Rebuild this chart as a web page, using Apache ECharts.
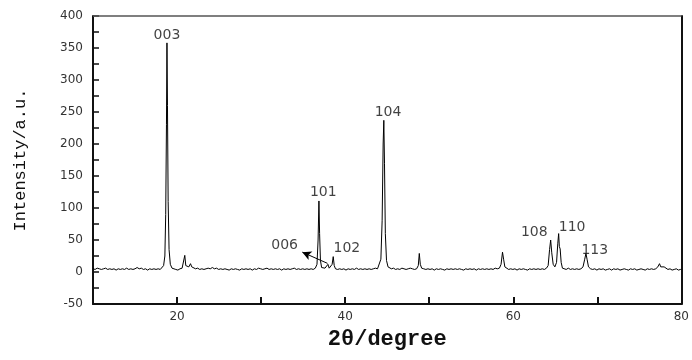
<!DOCTYPE html>
<html>
<head>
<meta charset="utf-8">
<script src="https://cdn.jsdelivr.net/npm/echarts@6/dist/echarts.min.js"></script>
<style>html,body{margin:0;padding:0;background:#fff}#c{width:692px;height:360px}</style>
</head>
<body>
<div id="c"></div>
<script>
const twoTheta = [10.0,10.25,10.5,10.75,11.0,11.25,11.5,11.75,12.0,12.25,12.5,12.75,13.0,13.25,13.5,13.75,14.0,14.25,14.5,14.75,15.0,15.25,15.5,15.75,16.0,16.25,16.5,16.75,17.0,17.25,17.5,17.75,18.0,18.2,18.4,18.55,18.65,18.74,18.8,18.86,18.94,19.05,19.2,19.4,19.6,19.85,20.1,20.35,20.6,20.8,20.92,21.04,21.2,21.4,21.6,21.75,21.95,22.2,22.45,22.7,22.95,23.2,23.45,23.7,23.95,24.2,24.45,24.7,24.95,25.2,25.45,25.7,25.95,26.2,26.45,26.7,26.95,27.2,27.45,27.7,27.95,28.2,28.45,28.7,28.95,29.2,29.45,29.7,29.95,30.2,30.45,30.7,30.95,31.2,31.45,31.7,31.95,32.2,32.45,32.7,32.95,33.2,33.45,33.7,33.95,34.2,34.45,34.7,34.95,35.2,35.45,35.7,35.95,36.2,36.45,36.65,36.78,36.88,36.96,37.06,37.2,37.4,37.6,37.8,37.95,38.1,38.3,38.45,38.58,38.7,38.85,39.1,39.35,39.6,39.85,40.1,40.35,40.6,40.85,41.1,41.35,41.6,41.85,42.1,42.35,42.6,42.85,43.1,43.35,43.6,43.85,44.05,44.25,44.4,44.52,44.6,44.68,44.78,44.92,45.1,45.3,45.5,45.75,46.0,46.25,46.5,46.75,47.0,47.25,47.5,47.75,48.0,48.25,48.5,48.7,48.82,48.94,49.1,49.35,49.6,49.85,50.1,50.35,50.6,50.85,51.1,51.35,51.6,51.85,52.1,52.35,52.6,52.85,53.1,53.35,53.6,53.85,54.1,54.35,54.6,54.85,55.1,55.35,55.6,55.85,56.1,56.35,56.6,56.85,57.1,57.35,57.6,57.85,58.1,58.35,58.55,58.72,58.85,59.0,59.2,59.45,59.7,59.95,60.2,60.45,60.7,60.95,61.2,61.45,61.7,61.95,62.2,62.45,62.7,62.95,63.2,63.45,63.7,63.95,64.15,64.32,64.45,64.58,64.75,64.95,65.15,65.3,65.4,65.48,65.58,65.7,65.85,66.05,66.3,66.55,66.8,67.05,67.3,67.55,67.8,68.05,68.3,68.5,68.65,68.78,68.95,69.2,69.45,69.7,69.95,70.2,70.45,70.7,70.95,71.2,71.45,71.7,71.95,72.2,72.45,72.7,72.95,73.2,73.45,73.7,73.95,74.2,74.45,74.7,74.95,75.2,75.45,75.7,75.95,76.2,76.45,76.7,76.95,77.2,77.4,77.55,77.75,77.95,78.15,78.4,78.65,78.9,79.15,79.4,79.65,79.9,80.0];
const intensity = [5,4,6,5,4,5,6,4,5,4,5,3,5,4,5,4,6,4,5,4,5,7,5,6,4,5,3,5,4,5,4,5,4,6,10,25,90,230,358,260,110,35,12,6,5,4,3,5,6,9,26,10,7,8,13,8,7,5,6,4,5,4,5,6,5,7,5,6,4,5,4,5,4,3,5,4,5,4,3,5,4,5,4,5,3,5,4,6,5,4,5,6,4,5,4,5,4,5,3,5,4,5,4,5,6,4,5,4,5,4,5,4,5,4,6,12,50,111,60,18,7,5,6,8,12,6,7,12,24,10,5,4,5,4,5,3,5,4,5,4,6,4,5,4,5,4,5,4,5,6,5,8,20,80,200,237,170,60,18,8,6,5,6,4,5,4,6,5,4,5,6,5,4,5,10,29,12,6,5,4,5,4,5,3,5,4,5,4,3,5,4,5,4,5,4,5,4,3,5,4,5,4,5,3,5,4,5,4,5,4,5,4,6,5,6,12,31,20,8,5,4,5,4,5,3,5,4,5,4,3,5,4,5,4,5,4,5,4,6,10,35,50,30,12,8,15,45,60,40,36,15,6,5,4,6,4,5,4,5,4,5,8,20,29,20,8,5,4,5,3,5,4,5,3,4,5,3,5,4,5,3,4,5,4,3,5,4,5,3,4,5,4,3,5,4,5,4,5,8,13,8,10,8,5,4,5,3,4,5,3,4,4];

const peakNames = ['003','101','006','102','104','108','110','113'];
const peakLabelX = [18.8,37.4,32.8,40.2,45.1,62.5,67.0,69.7];
const peakLabelY = [369,125,41,37.5,250,61.5,69,34];

const arrowFrom = [37.9,13.5];
const arrowTo = [34.9,31];

const yTicks = [-50,0,50,100,150,200,250,300,350,400];
const xTicks = [20,40,60,80];

const chart = echarts.init(document.getElementById('c'), null, {renderer:'canvas'});
const lineData = twoTheta.map((x,i)=>[x,intensity[i]]);
const labelData = peakNames.map((n,i)=>({value:[peakLabelX[i],peakLabelY[i]],name:n}));

chart.setOption({
  animation:false,
  backgroundColor:'#fff',
  grid:{left:93,right:9,top:16,bottom:56},
  xAxis:[{
    type:'value',min:10,max:80,interval:10,
    axisLine:{show:true,onZero:false,lineStyle:{color:'#111',width:2}},
    axisTick:{show:true,inside:true,length:7,lineStyle:{color:'#111',width:2}},
    axisLabel:{color:'#333',fontFamily:'DejaVu Sans',fontSize:12,margin:7,
      formatter:v=>xTicks.includes(v)?String(v):''},
    splitLine:{show:false},
    name:'2θ/degree',nameLocation:'middle',nameGap:24,
    nameTextStyle:{fontFamily:'Liberation Mono',fontWeight:'bold',fontSize:22,color:'#111'}
  }],
  yAxis:[{
    type:'value',min:-50,max:400,interval:25,
    axisLine:{show:true,onZero:false,lineStyle:{color:'#111',width:2}},
    axisTick:{show:true,inside:true,length:6,lineStyle:{color:'#111',width:1.5}},
    axisLabel:{color:'#333',fontFamily:'DejaVu Sans',fontSize:12,margin:10,
      formatter:v=>yTicks.includes(v)?String(v):''},
    splitLine:{show:false},
    name:'Intensity/a.u.',nameLocation:'middle',nameGap:64,nameRotate:90,
    nameTextStyle:{fontFamily:'Liberation Mono',fontSize:17,color:'#111'}
  },{
    type:'value',position:'right',min:-50,max:400,
    axisLine:{show:true,onZero:false,lineStyle:{color:'#111',width:2}},
    axisTick:{show:false},axisLabel:{show:false},splitLine:{show:false}
  }],
  series:[{
    type:'line',data:lineData,showSymbol:false,symbol:'none',
    lineStyle:{color:'#000',width:1},
    markLine:{
      silent:true,symbol:['none','arrow'],symbolSize:[7,9],
      label:{show:false},
      lineStyle:{color:'#000',width:1,type:'solid'},
      data:[[{coord:arrowFrom},{coord:arrowTo}]]
    }
  },{
    type:'scatter',data:labelData,symbolSize:0,
    label:{show:true,position:'inside',formatter:p=>p.name,
      fontFamily:'DejaVu Sans',fontSize:14,color:'#111'},
    markLine:{
      silent:true,symbol:'none',label:{show:false},
      lineStyle:{color:'#555',width:1.5,type:'solid'},
      data:[{yAxis:400}]
    }
  }]
});
</script>
</body>
</html>
